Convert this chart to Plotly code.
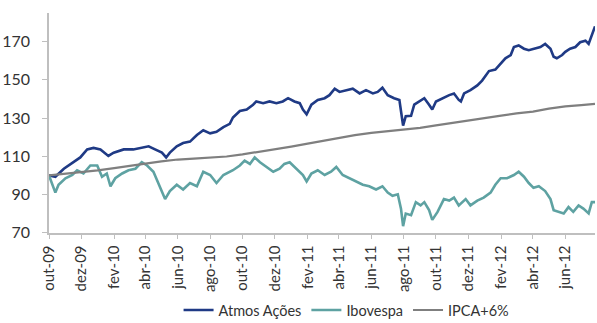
import plotly.graph_objects as go

# ---------------- data ----------------
atmos_dates = ["2009-10-01","2009-10-13","2009-10-29","2009-11-17","2009-11-29","2009-12-12","2009-12-24",
    "2010-01-06","2010-01-21","2010-01-31","2010-02-19","2010-03-09","2010-03-22","2010-04-07","2010-04-19",
    "2010-05-02","2010-05-10","2010-05-17","2010-05-30","2010-06-11","2010-06-24","2010-07-07","2010-07-19",
    "2010-08-01","2010-08-13","2010-08-26","2010-09-07","2010-09-13","2010-09-26","2010-10-09","2010-10-21",
    "2010-10-27","2010-11-09","2010-11-21","2010-12-04","2010-12-16","2010-12-26","2011-01-07","2011-01-17",
    "2011-01-23","2011-01-30","2011-02-08","2011-02-20","2011-03-05","2011-03-14","2011-03-24","2011-04-02",
    "2011-04-15","2011-04-27","2011-05-10","2011-05-22","2011-06-04","2011-06-13","2011-06-22","2011-07-02",
    "2011-07-14","2011-07-24","2011-07-27","2011-07-31","2011-08-05","2011-08-15","2011-08-21","2011-08-30",
    "2011-09-09","2011-09-18","2011-09-24","2011-10-01","2011-10-13","2011-10-26","2011-11-04","2011-11-13",
    "2011-11-17","2011-11-23","2011-12-05","2011-12-18","2011-12-27","2012-01-09","2012-01-21","2012-01-31",
    "2012-02-09","2012-02-19","2012-02-25","2012-03-05","2012-03-15","2012-03-24","2012-04-06","2012-04-15",
    "2012-04-24","2012-05-04","2012-05-10","2012-05-16","2012-05-26","2012-06-01","2012-06-10","2012-06-20",
    "2012-06-29","2012-07-09","2012-07-15","2012-07-21","2012-07-27"]
atmos_values = [100.0,99.3,103.5,106.9,109.4,113.6,114.4,
    113.6,110.2,111.9,113.6,113.6,114.4,115.2,113.6,
    111.9,109.4,111.9,115.2,116.9,117.7,121.1,123.6,
    122.0,122.8,125.3,127.0,130.3,133.7,134.5,137.0,
    138.7,137.8,138.7,137.8,138.7,140.4,138.7,137.8,
    134.5,132.0,137.0,139.5,140.4,142.0,145.4,143.7,
    144.6,145.4,142.9,144.6,142.9,143.7,145.9,142.0,
    140.4,139.5,133.7,126.1,131.0,131.2,137.0,138.7,
    140.4,137.0,134.5,138.7,140.4,142.0,142.9,139.5,
    138.7,142.9,144.6,147.1,149.6,154.6,155.4,158.8,
    161.3,163.0,167.2,168.0,166.3,165.5,166.3,167.2,
    168.8,166.3,162.1,161.3,163.0,164.7,166.3,167.2,
    169.7,170.5,168.8,173.0,178.0]

ibov_dates = ["2009-10-01","2009-10-13","2009-10-19","2009-11-01","2009-11-14","2009-11-23","2009-12-05",
    "2009-12-18","2009-12-31","2010-01-09","2010-01-18","2010-01-25","2010-02-03","2010-02-16","2010-02-28",
    "2010-03-13","2010-03-25","2010-04-04","2010-04-16","2010-04-25","2010-05-08","2010-05-17","2010-05-30",
    "2010-06-11","2010-06-24","2010-07-07","2010-07-19","2010-08-01","2010-08-13","2010-08-26","2010-09-07",
    "2010-09-13","2010-09-26","2010-10-05","2010-10-15","2010-10-24","2010-11-03","2010-11-15","2010-11-28",
    "2010-12-10","2010-12-19","2010-12-29","2011-01-11","2011-01-23","2011-01-30","2011-02-08","2011-02-20",
    "2011-03-05","2011-03-17","2011-03-27","2011-04-08","2011-04-21","2011-05-03","2011-05-16","2011-05-28",
    "2011-06-10","2011-06-22","2011-07-02","2011-07-11","2011-07-21","2011-07-27","2011-07-31","2011-08-05",
    "2011-08-15","2011-08-24","2011-09-02","2011-09-09","2011-09-18","2011-09-24","2011-10-04","2011-10-16",
    "2011-10-26","2011-11-04","2011-11-13","2011-11-26","2011-12-05","2011-12-18","2011-12-30","2012-01-12",
    "2012-01-21","2012-01-31","2012-02-12","2012-02-25","2012-03-05","2012-03-15","2012-03-24","2012-04-02",
    "2012-04-12","2012-04-24","2012-05-04","2012-05-10","2012-05-19","2012-05-29","2012-06-07","2012-06-16",
    "2012-06-26","2012-07-05","2012-07-15","2012-07-21","2012-07-27"]
ibov_values = [100.0,91.0,95.1,98.5,100.2,102.7,101.0,
    105.2,105.2,99.3,101.0,94.3,98.5,101.0,102.7,
    103.5,106.9,105.2,101.9,96.0,87.6,91.8,95.1,
    92.6,96.0,94.3,101.9,100.2,96.0,100.2,101.9,
    102.7,105.2,107.7,106.0,109.4,106.9,104.4,101.9,
    103.5,106.0,106.9,103.5,100.2,96.8,101.0,102.7,
    100.2,101.9,104.4,100.2,98.5,96.8,95.1,94.3,
    92.6,94.3,91.0,89.3,90.1,82.6,73.4,80.0,
    79.2,86.0,84.3,86.0,81.8,76.7,80.9,87.6,
    86.8,88.4,84.3,87.6,84.3,86.8,88.4,91.0,
    95.1,98.5,98.5,100.2,101.9,99.3,96.0,93.5,
    94.3,91.8,87.6,81.8,80.9,80.1,83.4,80.9,
    84.3,82.6,80.1,86.0,86.0]

ipca_dates = ["2009-10-01","2009-11-01","2009-12-01","2010-01-01","2010-02-01","2010-03-01","2010-04-01",
    "2010-05-01","2010-06-01","2010-07-01","2010-08-01","2010-09-01","2010-10-01","2010-11-01","2010-12-01",
    "2011-01-01","2011-02-01","2011-03-01","2011-04-01","2011-05-01","2011-06-01","2011-07-01","2011-08-01",
    "2011-09-01","2011-10-01","2011-11-01","2011-12-01","2012-01-01","2012-02-01","2012-03-01","2012-04-01",
    "2012-05-01","2012-06-01","2012-07-01","2012-07-27"]
ipca_values = [100.0,100.8,101.7,102.6,103.8,105.1,106.2,
    107.3,108.3,108.8,109.4,109.9,111.0,112.3,113.8,
    115.1,116.6,118.1,119.6,121.1,122.3,123.1,123.9,
    124.9,126.2,127.4,128.6,129.9,131.3,132.5,133.4,
    134.9,136.1,136.8,137.4]

tick_dates = ["2009-10-01","2009-12-01","2010-02-01","2010-04-01","2010-06-01","2010-08-01","2010-10-01",
    "2010-12-01","2011-02-01","2011-04-01","2011-06-01","2011-08-01","2011-10-01","2011-12-01",
    "2012-02-01","2012-04-01","2012-06-01"]
tick_labels = ["out-09","dez-09","fev-10","abr-10","jun-10","ago-10","out-10","dez-10","fev-11",
    "abr-11","jun-11","ago-11","out-11","dez-11","fev-12","abr-12","jun-12"]
y_ticks = [70, 90, 110, 130, 150, 170]

series_names = ["Atmos Ações", "Ibovespa", "IPCA+6%"]

# ---------------- figure ----------------
FONT = "Lato, 'Open Sans', sans-serif"
fig = go.Figure()
fig.add_trace(go.Scatter(x=atmos_dates, y=atmos_values, mode="lines", name=series_names[0],
                         line=dict(color="#1f3a85", width=2.6)))
fig.add_trace(go.Scatter(x=ibov_dates, y=ibov_values, mode="lines", name=series_names[1],
                         line=dict(color="#5ea2a2", width=2.6)))
fig.add_trace(go.Scatter(x=ipca_dates, y=ipca_values, mode="lines", name=series_names[2],
                         line=dict(color="#7f7f7f", width=2.2)))

axis_col = "#bfbfbf"
fig.update_layout(
    width=597, height=323,
    margin=dict(l=49, r=2, t=13, b=81),
    paper_bgcolor="white", plot_bgcolor="white",
    font=dict(family=FONT, size=14, color="#333333"),
    showlegend=True,
    legend=dict(orientation="h", x=0.545, xanchor="center", yref="container", y=0.04, yanchor="middle",
                font=dict(size=14.5, color="#333333"), itemwidth=30, tracegroupgap=0),
    xaxis=dict(type="date", range=["2009-10-01", "2012-07-27"], tickmode="array",
               tickvals=tick_dates, ticktext=tick_labels, tickangle=-90,
               showline=True, linecolor=axis_col, linewidth=1.5, ticks="outside",
               ticklen=5, tickcolor=axis_col, showgrid=False, zeroline=False,
               tickfont=dict(size=15)),
    yaxis=dict(range=[70, 185], tickmode="array", tickvals=y_ticks,
               showline=True, linecolor=axis_col, linewidth=1.5, ticks="outside",
               ticklen=5, tickcolor=axis_col, showgrid=False, zeroline=False,
               tickfont=dict(size=16), ticklabelstandoff=9),
)

fig.write_html("out.html")
